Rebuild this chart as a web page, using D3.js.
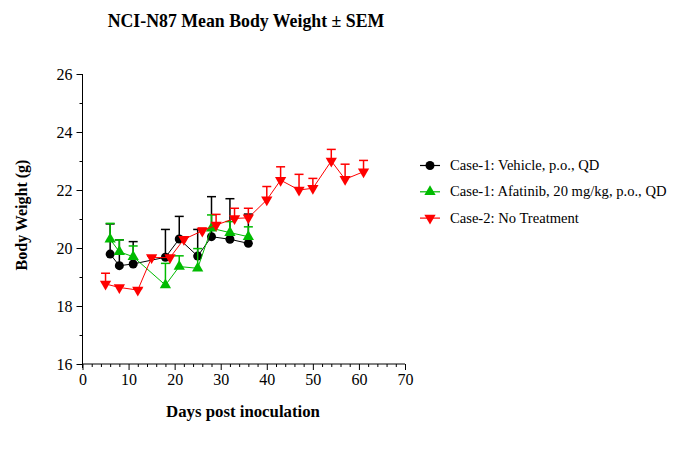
<!DOCTYPE html>
<html><head><meta charset="utf-8">
<script src="https://cdn.jsdelivr.net/npm/d3@7"></script>
<style>body{margin:0;background:#fff}svg{display:block}text{font-family:"Liberation Serif","Times New Roman",serif}</style>
</head><body><svg id="c" width="678" height="454"></svg>
<script>
const title = "NCI-N87 Mean Body Weight ± SEM";
const xTitle = "Days post inoculation";
const yTitle = "Body Weight (g)";
const xTicks = [0,10,20,30,40,50,60,70];
const yTicks = [16,18,20,22,24,26];

const vehicleDays = [6,8,11,18,21,25,28,32,36];
const vehicleMean = [19.79,19.39,19.45,19.68,20.31,19.72,20.39,20.30,20.16];
const vehicleSem  = [1.04,0.89,0.77,0.96,0.78,0.92,1.38,1.40,1.01];

const afatinibDays = [6,8,11,18,21,25,28,32,36];
const afatinibMean = [20.30,19.87,19.70,18.72,19.36,19.30,20.68,20.53,20.39];
const afatinibSem  = [0.55,0.41,0.37,0.75,0.37,0.68,0.46,0.38,0.34];

const noTxDays = [5,8,12,15,19,22,26,29,33,36,40,43,47,50,54,57,61];
const noTxMean = [18.76,18.64,18.55,19.67,19.67,20.30,20.59,20.79,21.02,21.04,21.66,22.34,22.00,22.06,23.00,22.37,22.63];
const noTxSem  = [0.37,0.05,0.05,0.05,0.05,0.08,0.10,0.37,0.35,0.33,0.46,0.46,0.54,0.34,0.40,0.52,0.39];

const seriesNames = ["Case-1: Vehicle, p.o., QD","Case-1: Afatinib, 20 mg/kg, p.o., QD","Case-2: No Treatment"];
const seriesColors = ["#000000","#00bb00","#ff0000"];
const seriesShapes = ["circle","up","down"];

const series = [
  {name:seriesNames[0], color:seriesColors[0], shape:seriesShapes[0], days:vehicleDays, mean:vehicleMean, sem:vehicleSem},
  {name:seriesNames[1], color:seriesColors[1], shape:seriesShapes[1], days:afatinibDays, mean:afatinibMean, sem:afatinibSem},
  {name:seriesNames[2], color:seriesColors[2], shape:seriesShapes[2], days:noTxDays, mean:noTxMean, sem:noTxSem}
];

const svg = d3.select("#c");
const x = d3.scaleLinear().domain([0,70]).range([82.5,405]);
const y = d3.scaleLinear().domain([16,26]).range([364,74]);

// axes
const gx = svg.append("g").attr("transform","translate(0,364)");
gx.call(d3.axisBottom(x).tickValues(d3.range(0,71,2)).tickSize(3).tickFormat(""));
gx.call(g=>g.selectAll(".tick").filter(d=>d%10===0).select("line").attr("y2",6));
gx.select(".domain").attr("d",`M${x(0)},0H${x(70)}`);
const gxl = svg.append("g").attr("transform","translate(0,364)")
  .call(d3.axisBottom(x).tickValues(xTicks).tickSize(0).tickPadding(10));
gxl.select(".domain").remove();

const gy = svg.append("g").attr("transform",`translate(${x(0)},0)`);
gy.call(d3.axisLeft(y).tickValues(d3.range(16,27,1)).tickSize(3).tickFormat(""));
gy.call(g=>g.selectAll(".tick").filter(d=>d%2===0).select("line").attr("x2",-6));
gy.select(".domain").attr("d",`M0,${y(26)}V${y(16)+4}`);
const gyl = svg.append("g").attr("transform",`translate(${x(0)},0)`)
  .call(d3.axisLeft(y).tickValues(yTicks).tickSize(0).tickPadding(10));
gyl.select(".domain").remove();

svg.selectAll(".tick text").attr("font-size",16).attr("font-family","Liberation Serif").attr("fill","#000");
svg.selectAll(".tick line, .domain").attr("stroke","#000").attr("stroke-width",1);

function marker(g, shape, color, cx, cy){
  if(shape==="circle") g.append("circle").attr("cx",cx).attr("cy",cy).attr("r",4.5).attr("fill",color);
  else {
    const s = d3.symbol().type(d3.symbolTriangle).size(55)();
    g.append("path").attr("d",s).attr("fill",color)
      .attr("transform",`translate(${cx},${cy})${shape==="down"?" rotate(180)":""}`);
  }
}

const plot = svg.append("g");
series.forEach(s=>{
  const g = plot.append("g");
  const pts = s.days.map((d,i)=>({d, m:s.mean[i], e:s.sem[i]}));
  pts.forEach(p=>{
    g.append("line").attr("x1",x(p.d)).attr("x2",x(p.d)).attr("y1",y(p.m)).attr("y2",y(p.m+p.e))
      .attr("stroke",s.color).attr("stroke-width",1.5);
    g.append("line").attr("x1",x(p.d)-4.5).attr("x2",x(p.d)+4.5).attr("y1",y(p.m+p.e)).attr("y2",y(p.m+p.e))
      .attr("stroke",s.color).attr("stroke-width",1.5);
  });
  g.append("path").datum(pts).attr("fill","none").attr("stroke",s.color).attr("stroke-width",1)
    .attr("d",d3.line().x(p=>x(p.d)).y(p=>y(p.m)));
  pts.forEach(p=>marker(g,s.shape,s.color,x(p.d),y(p.m)));
});

// legend
const leg = svg.append("g");
series.forEach((s,i)=>{
  const ly = 165.5 + i*26.3;
  leg.append("line").attr("x1",420).attr("x2",440).attr("y1",ly).attr("y2",ly).attr("stroke",s.color).attr("stroke-width",1.2);
  marker(leg,s.shape,s.color,430,ly);
  leg.append("text").attr("x",450).attr("y",ly+4.5).attr("font-size",14.6).text(s.name);
});

// titles
svg.append("text").attr("x",246).attr("y",27).attr("text-anchor","middle").attr("font-weight","bold").attr("font-size",17.8).text(title);
svg.append("text").attr("x",243).attr("y",417).attr("text-anchor","middle").attr("font-weight","bold").attr("font-size",16.8).text(xTitle);
svg.append("text").attr("transform","translate(27,215) rotate(-90)").attr("text-anchor","middle").attr("font-weight","bold").attr("font-size",16).text(yTitle);
</script></body></html>
